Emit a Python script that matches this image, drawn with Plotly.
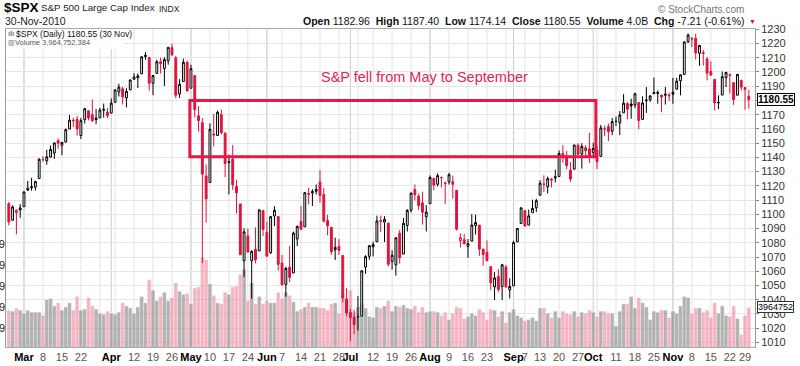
import pandas as pd
import plotly.graph_objects as go

# ---------------- data ----------------
HOLIDAYS = ["2010-04-02", "2010-05-31", "2010-07-05", "2010-09-06", "2010-11-25"]
DATES = [d for d in pd.bdate_range("2010-02-23", "2010-11-30")
         if d.strftime("%Y-%m-%d") not in HOLIDAYS]

PRIOR_CLOSE = 1108.0  # close of 22-Feb-2010

OPEN = [
    # Feb
    1107.5, 1095.9, 1101.2, 1103.1,
    # Mar
    1105.4, 1117.0, 1119.4, 1119.1, 1125.1, 1138.4, 1137.6, 1140.2, 1143.0, 1151.7, 1148.5, 1150.8,
    1159.9, 1166.1, 1166.7, 1155.4, 1166.5, 1172.7, 1170.0, 1167.6, 1167.7, 1173.8, 1171.8,
    # Apr
    1171.2, 1178.7, 1186.0, 1188.2, 1181.8, 1187.5, 1194.9, 1195.9, 1198.7, 1210.8, 1210.2, 1192.1,
    1199.0, 1207.2, 1202.5, 1207.9, 1217.1, 1209.9, 1184.6, 1193.3, 1206.8,
    # May
    1188.6, 1197.5, 1169.2, 1164.4, 1127.0, 1122.3, 1156.4, 1155.4, 1170.0, 1157.2, 1136.5, 1138.8,
    1119.6, 1107.3, 1067.3, 1084.8, 1067.4, 1075.5, 1074.3, 1102.6,
    # Jun
    1087.3, 1073.0, 1098.8, 1098.4, 1065.8, 1050.8, 1062.8, 1058.8, 1082.7, 1095.0, 1091.2, 1114.0,
    1115.0, 1116.2, 1122.8, 1113.9, 1095.6, 1090.9, 1075.1, 1077.5, 1071.1, 1040.6,
    # Jul
    1031.1, 1027.7, 1028.1, 1028.5, 1062.9, 1070.5, 1077.2, 1080.7, 1095.6, 1094.5, 1093.9, 1066.9,
    1064.5, 1086.7, 1072.1, 1092.2, 1102.9, 1117.4, 1112.8, 1108.1, 1098.4,
    # Aug
    1107.5, 1125.3, 1121.1, 1125.8, 1122.1, 1122.8, 1122.9, 1116.9, 1081.5, 1082.2, 1077.5, 1081.2,
    1092.1, 1092.4, 1075.6, 1073.4, 1063.2, 1049.0, 1056.3, 1049.3, 1062.9, 1046.9,
    # Sep
    1049.7, 1080.7, 1093.6, 1102.6, 1092.4, 1101.2, 1104.6, 1113.4, 1121.2, 1119.4, 1123.9, 1126.4,
    1126.6, 1142.8, 1139.5, 1131.1, 1131.7, 1148.6, 1142.3, 1146.8, 1146.0,
    # Oct
    1143.5, 1145.0, 1140.7, 1159.8, 1161.6, 1158.4, 1165.3, 1164.3, 1171.3, 1177.8, 1177.5, 1176.8,
    1178.6, 1166.7, 1179.8, 1180.5, 1184.7, 1184.9, 1183.8, 1184.5, 1183.9,
    # Nov
    1185.7, 1187.9, 1193.8, 1198.3, 1221.2, 1223.2, 1223.6, 1213.1, 1213.0, 1209.1, 1200.4, 1194.8,
    1178.3, 1183.8, 1196.1, 1198.1, 1192.5, 1183.7, 1194.2, 1189.1, 1182.96,
]
HIGH = [
    1108.6, 1106.4, 1103.5, 1107.2,
    1116.1, 1123.5, 1125.6, 1123.7, 1139.4, 1141.0, 1145.4, 1148.3, 1150.2, 1153.4, 1150.0, 1160.3,
    1169.9, 1167.8, 1169.2, 1167.8, 1174.7, 1173.0, 1180.7, 1174.0, 1174.8, 1177.8, 1174.6,
    1181.4, 1187.7, 1191.8, 1189.6, 1188.6, 1194.7, 1199.2, 1199.0, 1210.7, 1213.9, 1210.2, 1197.9,
    1208.6, 1210.0, 1210.3, 1217.3, 1219.8, 1211.4, 1195.0, 1209.4, 1208.0,
    1205.1, 1197.5, 1175.9, 1167.6, 1135.1, 1163.9, 1170.5, 1172.9, 1173.6, 1157.2, 1141.9, 1148.7,
    1124.3, 1107.3, 1090.2, 1089.9, 1074.8, 1090.8, 1103.5, 1102.6,
    1094.8, 1098.6, 1105.7, 1098.4, 1071.4, 1063.2, 1077.7, 1087.9, 1092.0, 1105.9, 1115.6, 1118.7,
    1117.7, 1121.0, 1131.2, 1118.5, 1099.6, 1090.9, 1083.6, 1082.6, 1071.1, 1048.1,
    1033.6, 1032.9, 1042.5, 1060.9, 1071.3, 1078.2, 1080.8, 1099.1, 1099.1, 1098.7, 1093.9, 1074.7,
    1083.9, 1089.0, 1097.5, 1103.7, 1115.0, 1121.0, 1114.7, 1115.9, 1106.4,
    1127.3, 1125.4, 1128.8, 1126.6, 1123.1, 1129.2, 1127.2, 1116.9, 1086.7, 1086.3, 1082.6, 1100.1,
    1099.8, 1092.4, 1075.6, 1081.6, 1063.2, 1059.4, 1061.5, 1065.2, 1064.4, 1055.1,
    1081.3, 1090.1, 1105.1, 1102.6, 1103.3, 1110.3, 1110.9, 1123.9, 1127.4, 1126.5, 1125.4, 1131.5,
    1144.9, 1148.6, 1144.4, 1136.8, 1148.9, 1149.9, 1150.0, 1148.6, 1157.2,
    1150.3, 1148.2, 1162.8, 1162.3, 1163.9, 1167.7, 1168.7, 1172.6, 1184.4, 1178.9, 1181.2, 1185.5,
    1178.6, 1182.9, 1189.4, 1183.9, 1196.1, 1187.1, 1183.8, 1189.5, 1185.5,
    1195.8, 1195.9, 1198.3, 1221.3, 1227.1, 1224.6, 1226.8, 1218.8, 1215.5, 1210.5, 1207.4, 1194.8,
    1183.6, 1200.3, 1200.0, 1198.9, 1192.5, 1198.6, 1194.2, 1189.1, 1187.40,
]
LOW = [
    1092.2, 1095.5, 1086.0, 1097.6,
    1105.4, 1116.5, 1116.6, 1116.7, 1125.1, 1136.8, 1134.9, 1140.1, 1138.9, 1146.0, 1141.5, 1150.4,
    1159.9, 1161.2, 1155.3, 1152.9, 1163.8, 1166.0, 1165.1, 1163.3, 1167.7, 1168.0, 1167.7,
    1170.7, 1178.7, 1182.8, 1177.2, 1175.1, 1187.1, 1194.7, 1188.8, 1198.7, 1208.5, 1186.8, 1183.7,
    1199.0, 1198.9, 1190.2, 1205.1, 1211.1, 1181.6, 1181.8, 1193.3, 1186.3,
    1188.6, 1168.1, 1158.2, 1065.8, 1094.2, 1122.3, 1147.7, 1155.4, 1156.1, 1126.1, 1114.0, 1117.2,
    1100.7, 1071.6, 1055.9, 1073.0, 1040.8, 1065.6, 1074.3, 1084.8,
    1069.9, 1072.3, 1091.8, 1060.5, 1049.9, 1042.2, 1052.3, 1058.8, 1077.6, 1089.0, 1091.2, 1107.1,
    1105.9, 1113.9, 1108.2, 1094.2, 1085.3, 1071.6, 1067.9, 1071.5, 1038.1, 1028.3,
    1010.9, 1015.9, 1018.4, 1028.5, 1058.2, 1068.1, 1070.5, 1080.7, 1087.7, 1080.5, 1063.3, 1061.1,
    1056.9, 1065.3, 1072.1, 1087.9, 1101.3, 1109.8, 1103.1, 1092.8, 1088.0,
    1107.5, 1116.8, 1119.5, 1118.9, 1107.2, 1120.9, 1111.0, 1088.6, 1076.7, 1079.0, 1069.5, 1081.2,
    1085.8, 1070.7, 1063.9, 1067.1, 1046.7, 1039.8, 1045.4, 1039.7, 1048.8, 1040.9,
    1049.7, 1080.4, 1093.6, 1091.2, 1092.4, 1101.2, 1101.7, 1113.4, 1115.6, 1114.6, 1118.9, 1122.4,
    1126.6, 1136.2, 1131.6, 1122.8, 1131.7, 1142.0, 1132.1, 1140.3, 1136.1,
    1139.4, 1131.9, 1140.7, 1154.9, 1151.4, 1155.6, 1162.0, 1155.7, 1171.3, 1166.7, 1167.1, 1174.6,
    1159.7, 1166.7, 1171.2, 1179.0, 1184.7, 1177.7, 1171.7, 1177.1, 1179.7,
    1177.7, 1187.9, 1183.6, 1198.3, 1220.3, 1217.6, 1208.9, 1204.3, 1204.5, 1194.1, 1197.2, 1173.0,
    1173.9, 1183.8, 1189.4, 1184.8, 1176.9, 1183.7, 1186.9, 1173.6, 1174.14,
]
CLOSE = [
    1094.6, 1105.2, 1102.9, 1104.5,
    1115.7, 1118.3, 1118.8, 1123.0, 1138.7, 1138.5, 1140.4, 1145.6, 1150.2, 1150.0, 1150.5, 1159.5,
    1166.2, 1165.8, 1159.9, 1165.8, 1174.2, 1167.7, 1165.7, 1166.6, 1173.2, 1173.3, 1169.4,
    1178.1, 1187.4, 1189.4, 1182.4, 1186.4, 1194.4, 1196.5, 1197.3, 1210.7, 1211.7, 1192.1, 1197.5,
    1207.2, 1205.9, 1208.7, 1217.3, 1212.1, 1183.7, 1191.4, 1206.8, 1186.7,
    1202.3, 1173.6, 1165.9, 1128.2, 1110.9, 1159.7, 1155.8, 1171.7, 1157.4, 1135.7, 1136.9, 1120.8,
    1115.1, 1071.6, 1087.7, 1073.6, 1074.0, 1068.0, 1103.1, 1089.4,
    1070.7, 1098.4, 1102.8, 1064.9, 1050.5, 1062.0, 1055.7, 1086.8, 1091.6, 1089.6, 1115.2, 1114.6,
    1116.0, 1117.5, 1113.2, 1095.3, 1092.0, 1073.7, 1076.8, 1074.6, 1041.2, 1030.7,
    1027.4, 1022.6, 1028.1, 1060.3, 1070.3, 1078.0, 1078.8, 1095.3, 1095.2, 1096.5, 1064.9, 1071.3,
    1083.5, 1069.6, 1093.7, 1102.7, 1115.0, 1113.8, 1106.1, 1101.5, 1101.6,
    1125.9, 1120.5, 1127.2, 1125.8, 1121.6, 1127.8, 1121.1, 1089.5, 1083.6, 1079.3, 1079.4, 1092.5,
    1094.2, 1075.6, 1071.7, 1067.4, 1051.9, 1055.3, 1047.2, 1064.6, 1048.9, 1049.3,
    1080.3, 1090.1, 1104.5, 1091.8, 1098.9, 1104.2, 1109.6, 1121.9, 1121.1, 1125.1, 1124.7, 1125.6,
    1142.7, 1139.8, 1134.3, 1124.8, 1148.7, 1142.2, 1147.7, 1144.7, 1141.2,
    1146.2, 1137.0, 1160.8, 1160.0, 1158.1, 1165.2, 1165.3, 1169.8, 1178.1, 1173.8, 1176.2, 1184.7,
    1165.9, 1178.2, 1180.3, 1183.1, 1185.6, 1185.6, 1182.4, 1183.8, 1183.3,
    1184.4, 1193.6, 1198.0, 1221.1, 1225.9, 1223.3, 1213.4, 1218.7, 1213.5, 1199.2, 1197.8, 1178.3,
    1178.6, 1196.7, 1199.7, 1197.8, 1180.7, 1198.35, 1189.4, 1187.76, 1180.55,
]
VOLUME_B = [  # billions of shares
    3.7, 3.6, 3.9, 3.7,
    3.4, 3.7, 3.5, 3.5, 3.5, 3.2, 4.7, 4.8, 4.1, 4.4, 3.7, 4.0, 4.4, 3.7, 5.0, 3.7, 3.8, 4.9, 4.1, 3.8,
    3.4, 3.3, 3.6,
    3.4, 3.3, 3.5, 4.4, 4.1, 3.9, 3.4, 4.0, 5.0, 4.4, 6.6, 5.6, 4.6, 5.0, 5.4, 4.6, 4.9, 6.3, 5.5, 5.2,
    5.3,
    4.3, 5.8, 5.9, 8.7, 8.5, 6.2, 5.1, 4.4, 4.3, 5.4, 5.2, 5.9, 6.0, 7.1, 7.6, 4.6, 6.3, 4.3, 5.0, 4.3,
    4.6, 4.4, 4.4, 5.4, 4.8, 5.4, 5.1, 4.5, 3.6, 3.8, 4.0, 4.4, 4.0, 4.0, 3.9, 3.9, 3.7, 4.3, 4.4, 3.4,
    5.3, 4.5,
    5.6, 3.5, 4.0, 4.3, 3.9, 3.1, 3.0, 4.0, 3.9, 4.1, 4.6, 3.6, 4.1, 4.0, 4.2, 3.9, 3.8, 4.1, 3.5, 4.0,
    3.5,
    3.6, 3.6, 3.5, 3.2, 3.5, 2.8, 3.4, 4.0, 3.9, 2.9, 3.1, 3.4, 3.2, 3.8, 3.5, 2.8, 3.8, 3.7, 3.1, 3.6,
    2.5, 3.5,
    3.8, 3.2, 3.0, 2.7, 2.8, 3.0, 2.7, 3.9, 3.9, 3.4, 3.0, 3.6, 3.0, 3.6, 3.4, 3.3, 3.6, 3.1, 3.5, 3.4,
    3.7,
    3.5, 3.1, 3.6, 3.6, 3.4, 3.4, 2.2, 3.6, 4.3, 4.3, 5.0, 3.9, 4.9, 4.4, 4.0, 2.8, 3.6, 3.5, 3.7, 3.7,
    3.0,
    3.6, 3.4, 4.1, 5.0, 4.9, 3.4, 3.9, 3.9, 3.5, 3.7, 3.0, 4.4, 3.4, 4.1, 3.2, 3.1, 4.1, 2.9, 1.4, 3.2,
    3.964752384,
]

TICK_DATES = ["2010-03-01", "2010-03-08", "2010-03-15", "2010-03-22", "2010-04-01", "2010-04-12",
              "2010-04-19", "2010-04-26", "2010-05-03", "2010-05-10", "2010-05-17", "2010-05-24",
              "2010-06-01", "2010-06-07", "2010-06-14", "2010-06-21", "2010-06-28", "2010-07-01",
              "2010-07-12", "2010-07-19", "2010-07-26", "2010-08-02", "2010-08-09", "2010-08-16",
              "2010-08-23", "2010-09-01", "2010-09-07", "2010-09-13", "2010-09-20", "2010-09-27",
              "2010-10-01", "2010-10-11", "2010-10-18", "2010-10-25", "2010-11-01", "2010-11-08",
              "2010-11-15", "2010-11-22", "2010-11-29"]
TICK_LABELS = ["Mar", "8", "15", "22", "Apr", "12", "19", "26", "May", "10", "17", "24", "Jun", "7",
               "14", "21", "28", "Jul", "12", "19", "26", "Aug", "9", "16", "23", "Sep", "7", "13",
               "20", "27", "Oct", "11", "18", "25", "Nov", "8", "15", "22", "29"]

PRICE_TICKS = list(range(1010, 1231, 10))
VOL_TICKS = [2e9, 4e9, 6e9, 8e9, 10e9]

BOX_DATES = ("2010-05-03", "2010-10-01")
BOX_PRICES = (1140.5, 1180.0)
NOTE = "S&P fell from May to September"

# ---------------- derived ----------------
n = len(DATES)
assert all(len(a) == n for a in (OPEN, HIGH, LOW, CLOSE, VOLUME_B)), \
    (n, len(OPEN), len(HIGH), len(LOW), len(CLOSE), len(VOLUME_B))
idx = list(range(n))
pos = {d.strftime("%Y-%m-%d"): i for i, d in enumerate(DATES)}
prev = [PRIOR_CLOSE] + CLOSE[:-1]
up = [c >= p for c, p in zip(CLOSE, prev)]

RED = "#dc143c"
FONT = "Liberation Sans, Arial, sans-serif"

W, H = 800, 366
L, R, T, B = 6, 45, 29, 19
PW, PH = W - L - R, H - T - B


def px(xp):
    return (xp - L) / PW


def py(yp):
    return (H - B - yp) / PH


fig = go.Figure()

# volume (behind)
vol_colors = ["rgba(150,150,150,0.72)" if u else "rgba(236,120,146,0.55)" for u in up]
fig.add_trace(go.Bar(
    x=idx, y=[v * 1e9 for v in VOLUME_B],
    marker=dict(color=vol_colors, line=dict(color="rgba(255,255,255,0.6)", width=0.5)),
    width=1.0, xaxis="x", yaxis="y", hoverinfo="skip", showlegend=False))

# candles: black group (close >= previous close) and red group
for flag, col, dfill in ((True, "black", "black"), (False, RED, RED)):
    sel = [i for i in idx if up[i] == flag]
    fig.add_trace(go.Candlestick(
        x=sel, open=[OPEN[i] for i in sel], high=[HIGH[i] for i in sel],
        low=[LOW[i] for i in sel], close=[CLOSE[i] for i in sel],
        increasing=dict(line=dict(color=col, width=1), fillcolor="white"),
        decreasing=dict(line=dict(color=col, width=1), fillcolor=dfill),
        whiskerwidth=0, xaxis="x", yaxis="y2", hoverinfo="skip", showlegend=False))

shapes = []
# vertical grid: week starts (light) and month starts (darker)
week_starts, month_starts = [], []
for i, d in enumerate(DATES):
    if i == 0 or d.isocalendar()[1] != DATES[i - 1].isocalendar()[1]:
        week_starts.append(i)
    if i == 0 or d.month != DATES[i - 1].month:
        month_starts.append(i)
for i in week_starts:
    if i == 0:
        continue
    shapes.append(dict(type="line", xref="x", yref="paper", x0=i, x1=i, y0=0, y1=1,
                       line=dict(color="#e3e3e3", width=1), layer="below"))
for i in month_starts:
    if i == 0:
        continue
    shapes.append(dict(type="line", xref="x", yref="paper", x0=i, x1=i, y0=0, y1=1,
                       line=dict(color="#cdcdcd", width=1), layer="below"))

# highlight box
shapes.append(dict(type="rect", xref="x", yref="y2",
                   x0=pos[BOX_DATES[0]] - 0.3, x1=pos[BOX_DATES[1]] + 0.7,
                   y0=BOX_PRICES[0], y1=BOX_PRICES[1],
                   line=dict(color="#e8174a", width=3), layer="above"))
# legend box
shapes.append(dict(type="rect", xref="paper", yref="paper", x0=px(6.5), x1=px(123), y0=py(49), y1=py(29.5),
                   fillcolor="white", line=dict(width=0), layer="above"))

ann = []
ann.append(dict(text="<b>$SPX</b>", x=px(2), y=py(7), font=dict(size=13.5, color="black")))
ann.append(dict(text="S&P 500 Large Cap Index", x=px(39), y=py(8), font=dict(size=9.8, color="#222")))
ann.append(dict(text="INDX", x=px(157), y=py(8.5), font=dict(size=8.5, color="#222")))
ann.append(dict(text="30-Nov-2010", x=px(3), y=py(21.5), font=dict(size=10.5, color="#222")))
chg = CLOSE[-1] - CLOSE[-2]
hdr = ("<b>Open</b> %.2f  <b>High</b> %.2f  <b>Low</b> %.2f  <b>Close</b> %.2f  "
       "<b>Volume</b> %.1fB  <b>Chg</b> %.2f (%.2f%%)") % (
    OPEN[-1], HIGH[-1], LOW[-1], CLOSE[-1], VOLUME_B[-1], chg, chg / CLOSE[-2] * 100)
ann.append(dict(text=hdr, x=px(746), y=py(21.5), xanchor="right", font=dict(size=10.5, color="#111")))
ann.append(dict(text="▼", x=px(747), y=py(21), font=dict(size=7, color=RED)))
ann.append(dict(text="© StockCharts.com", x=px(746), y=py(9.5), xanchor="right",
                font=dict(size=10, color="#777")))
ann.append(dict(text="$SPX (Daily) %.2f (30 Nov)" % CLOSE[-1], x=px(14), y=py(33.5),
                font=dict(size=8.5, color="#111")))
ann.append(dict(text="Volume {:,}".format(round(VOLUME_B[-1] * 1e9)), x=px(13), y=py(42.5),
                font=dict(size=7.5, color="#555")))
ann.append(dict(text="▥", x=px(6), y=py(42.5), font=dict(size=7, color="#777")))
ann.append(dict(text="ılı", x=px(6), y=py(33.5), font=dict(size=8, color="#333")))
for a in ann:
    a.setdefault("xanchor", "left")
    a.update(xref="paper", yref="paper", yanchor="middle", showarrow=False, font_family=FONT)

# note text
ann.append(dict(text=NOTE, xref="x", yref="y2", x=(pos[BOX_DATES[0]] + pos[BOX_DATES[1]]) / 2 + 8.5,
                y=1196.5, showarrow=False, font=dict(size=14.5, color="#e0245e", family=FONT)))
# right tags
ann.append(dict(text="<b>%.2f</b>" % CLOSE[-1], xref="paper", yref="y2", x=px(757), y=CLOSE[-1],
                xanchor="left", yanchor="middle", showarrow=False, bgcolor="white",
                bordercolor="black", borderwidth=1, borderpad=0,
                font=dict(size=10, color="black", family=FONT)))
ann.append(dict(text=str(round(VOLUME_B[-1] * 1e9))[:7], xref="paper", yref="y", x=px(757),
                y=VOLUME_B[-1] * 1e9, xanchor="left", yanchor="middle", showarrow=False,
                bgcolor="white", bordercolor="#333", borderwidth=1, borderpad=0,
                font=dict(size=9, color="black", family=FONT)))

tickvals = [pos[d] for d in TICK_DATES]
ticktext = ["<b>%s</b>" % t if not t.isdigit() else '<span style="color:#555">%s</span>' % t
            for t in TICK_LABELS]
# the price label covered by the last-close tag is not drawn
price_text = ["" if abs(v - CLOSE[-1]) < 5 else str(v) for v in PRICE_TICKS]

fig.update_layout(
    width=W, height=H, margin=dict(l=L, r=R, t=T, b=B, autoexpand=False),
    paper_bgcolor="white", plot_bgcolor="white",
    font=dict(family=FONT, size=11, color="#222"),
    showlegend=False, boxmode="overlay",
    xaxis=dict(range=[-0.74, 196.63], tickvals=tickvals, ticktext=ticktext, showgrid=False,
               zeroline=False, ticks="", showline=True, linecolor="#aaa", mirror=True,
               tickangle=0, automargin=False,
               rangeslider=dict(visible=False), tickfont=dict(size=11, color="black")),
    yaxis=dict(range=[0.19e9, 30.48e9], tickvals=VOL_TICKS, automargin=False,
               ticktext=["%.1fe9" % (v / 1e9) for v in VOL_TICKS], showgrid=False, zeroline=False,
               ticks="", side="left", showline=False, tickfont=dict(size=11, color="#222")),
    yaxis2=dict(range=[1006.8, 1230.2], tickvals=PRICE_TICKS, ticktext=price_text,
                overlaying="y", side="right", automargin=False,
                showgrid=True, gridcolor="#e6e6e6", zeroline=False, ticks="outside", ticklen=3,
                tickcolor="#888", showline=True, linecolor="#999", mirror=True,
                tickfont=dict(size=11, color="#333")),
    shapes=shapes, annotations=ann,
)

fig.write_html("out.html", config={"displayModeBar": False, "staticPlot": True},
               post_script="document.body.style.margin='0';document.body.style.padding='0';"
                           "document.documentElement.style.overflow='hidden';")
